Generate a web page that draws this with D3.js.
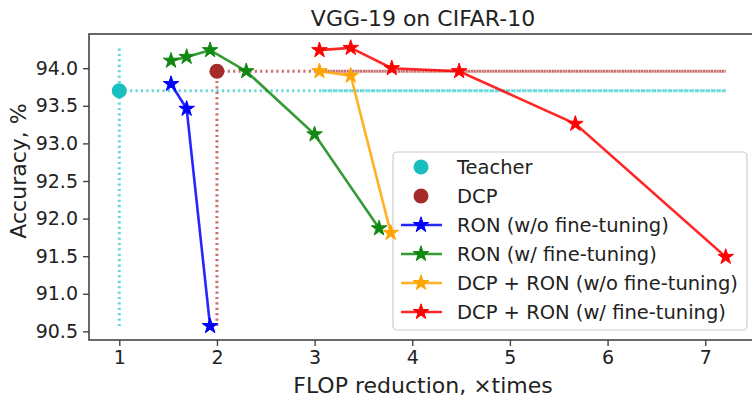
<!DOCTYPE html>
<html lang="en">
<head>
  <meta charset="UTF-8">
  <script src="https://cdn.jsdelivr.net/npm/d3@7"></script>
  <style>
    body { margin: 0; background: #fff; }
    text { font-family: "DejaVu Sans", sans-serif; fill: #222; }
  </style>
</head>
<body>
<div id="container"></div>
<script>

// Chart data
const xTicks = [1, 2, 3, 4, 5, 6, 7];
const yTicks = [90.5, 91.0, 91.5, 92.0, 92.5, 93.0, 93.5, 94.0];

const teacher = { x: 1.0, y: 93.70 };
const dcp = { x: 2.0, y: 93.96 };

const ronNoFtX = [1.53, 1.69, 1.93];
const ronNoFtY = [93.79, 93.46, 90.57];

const ronFtX = [1.53, 1.69, 1.93, 2.30, 3.00, 3.66];
const ronFtY = [94.10, 94.15, 94.24, 93.96, 93.12, 91.87];

const dcpRonNoFtX = [3.05, 3.37, 3.78];
const dcpRonNoFtY = [93.96, 93.90, 91.81];

const dcpRonFtX = [3.05, 3.37, 3.79, 4.48, 5.67, 7.21];
const dcpRonFtY = [94.24, 94.27, 94.00, 93.96, 93.26, 91.49];

const legendLabels = ["Teacher", "DCP", "RON (w/o fine-tuning)", "RON (w/ fine-tuning)",
  "DCP + RON (w/o fine-tuning)", "DCP + RON (w/ fine-tuning)"];

const series = [
  { xs: ronNoFtX, ys: ronNoFtY, color: "#0000ff" },
  { xs: ronFtX, ys: ronFtY, color: "#118811" },
  { xs: dcpRonNoFtX, ys: dcpRonNoFtY, color: "#ffa500" },
  { xs: dcpRonFtX, ys: dcpRonFtY, color: "#ff0000" }
];

const width = 752;
const height = 397;
const margin = { left: 89, right: -5, top: 34, bottom: 57 };

const svg = d3.create("svg")
    .attr("width", width)
    .attr("height", height);

svg.append("rect").attr("width", width).attr("height", height).attr("fill", "#fff");

const x = d3.scaleLinear().domain([0.69, 7.53]).range([margin.left, width - margin.right]);
const y = d3.scaleLinear().domain([90.385, 94.455]).range([height - margin.bottom, margin.top]);

// extents of all plotted points, used for the reference lines
const allX = series.flatMap(s => s.xs).concat([teacher.x, dcp.x]);
const allY = series.flatMap(s => s.ys).concat([teacher.y, dcp.y]);
const xMax = d3.max(allX);
const yMin = d3.min(allY);
const yMax = d3.max(allY);

// legend box goes under the lines (they show through it in the picture)
const legend = svg.append("g");
legend.append("rect")
    .attr("x", 393).attr("y", 152)
    .attr("width", 354).attr("height", 178)
    .attr("rx", 4)
    .attr("fill", "#fff")
    .attr("stroke", "#ccc").attr("stroke-width", 1.2);

const dotted = "2.2,3.2";

function refLine(x1, y1, x2, y2, color, offset) {
  svg.append("line")
      .attr("x1", x(x1)).attr("y1", y(y1))
      .attr("x2", x(x2)).attr("y2", y(y2))
      .attr("stroke", color)
      .attr("stroke-width", 3)
      .attr("stroke-dasharray", dotted)
      .attr("stroke-dashoffset", offset || 0)
      .attr("opacity", 0.75);
}

// teacher dotted lines
refLine(teacher.x, yMin, teacher.x, yMax, "#33cccc");
refLine(teacher.x, teacher.y, xMax, teacher.y, "#33cccc");
refLine(dcpRonNoFtX[0], teacher.y, xMax, teacher.y, "#33cccc", 2.7);
// DCP dotted lines
refLine(dcp.x, yMin, dcp.x, dcp.y, "#b84040");
refLine(dcp.x, dcp.y, xMax, dcp.y, "#b84040");
refLine(dcpRonNoFtX[0], dcp.y, xMax, dcp.y, "#b84040", 2.7);

// points for teacher and DCP
svg.append("circle").attr("cx", x(teacher.x)).attr("cy", y(teacher.y)).attr("r", 7.5).attr("fill", "#19bfbf");
svg.append("circle").attr("cx", x(dcp.x)).attr("cy", y(dcp.y)).attr("r", 7.5).attr("fill", "#a52a2a");

const star = d3.symbol().type(d3.symbolStar).size(75);
const line = d3.line().x(d => x(d[0])).y(d => y(d[1]));

series.forEach(s => {
  const pts = s.xs.map((v, i) => [v, s.ys[i]]);
  svg.append("path")
      .attr("d", line(pts))
      .attr("fill", "none")
      .attr("stroke", s.color)
      .attr("stroke-width", 2.6)
      .attr("stroke-opacity", 0.85);
  svg.append("g").selectAll("path")
    .data(pts)
    .join("path")
      .attr("d", star)
      .attr("transform", d => `translate(${x(d[0])},${y(d[1])})`)
      .attr("fill", s.color)
      .attr("stroke", s.color)
      .attr("stroke-width", 1);
});

// axes frame
svg.append("rect")
    .attr("x", margin.left).attr("y", margin.top)
    .attr("width", width - margin.right - margin.left)
    .attr("height", height - margin.bottom - margin.top)
    .attr("fill", "none")
    .attr("stroke", "#444")
    .attr("stroke-width", 1.6);

const xAxis = svg.append("g")
    .attr("transform", `translate(0,${height - margin.bottom})`)
    .call(d3.axisBottom(x).tickValues(xTicks).tickFormat(d3.format("d")).tickSize(6).tickPadding(5));
const yAxis = svg.append("g")
    .attr("transform", `translate(${margin.left},0)`)
    .call(d3.axisLeft(y).tickValues(yTicks).tickFormat(d3.format(".1f")).tickSize(6).tickPadding(5));

[xAxis, yAxis].forEach(a => {
  a.select(".domain").remove();
  a.selectAll(".tick line").attr("stroke", "#444").attr("stroke-width", 1.4);
  a.selectAll(".tick text").attr("font-size", 19).attr("fill", "#222")
      .attr("font-family", "DejaVu Sans");
});

// titles
svg.append("text")
    .attr("x", 423).attr("y", 26)
    .attr("text-anchor", "middle")
    .attr("font-size", 22)
    .text("VGG-19 on CIFAR-10");

svg.append("text")
    .attr("x", 423).attr("y", 393)
    .attr("text-anchor", "middle")
    .attr("font-size", 22)
    .text("FLOP reduction, \u00d7times");

svg.append("text")
    .attr("transform", "translate(26,171) rotate(-90)")
    .attr("text-anchor", "middle")
    .attr("font-size", 22)
    .text("Accuracy, %");

// legend entries
const items = svg.append("g");
const legendColors = ["#19bfbf", "#a52a2a"].concat(series.map(s => s.color));
legendLabels.forEach((lab, i) => {
  const ly = 167 + i * 29;
  if (i < 2) {
    items.append("circle").attr("cx", 421).attr("cy", ly).attr("r", 7.5).attr("fill", legendColors[i]);
  } else {
    items.append("line")
        .attr("x1", 401).attr("x2", 442).attr("y1", ly).attr("y2", ly)
        .attr("stroke", legendColors[i]).attr("stroke-width", 2.6).attr("stroke-opacity", 0.85);
    items.append("path")
        .attr("d", star)
        .attr("transform", `translate(421,${ly})`)
        .attr("fill", legendColors[i]).attr("stroke", legendColors[i]);
  }
  items.append("text")
      .attr("x", 457).attr("y", ly)
      .attr("dy", "0.36em")
      .attr("font-size", 19.5)
      .text(lab);
});

document.getElementById("container").appendChild(svg.node());

</script>
</body>
</html>
